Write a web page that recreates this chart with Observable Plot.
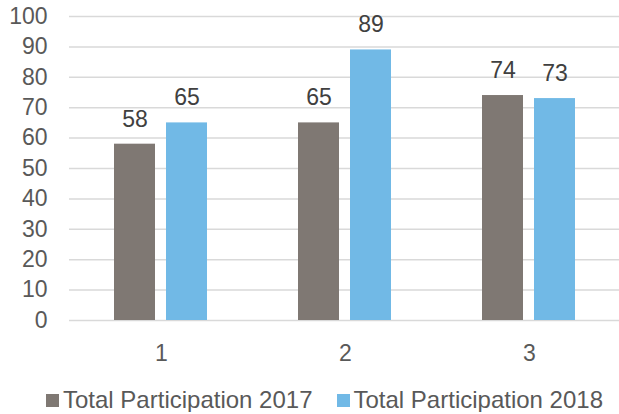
<!DOCTYPE html>
<html>
<head>
<meta charset="utf-8">
<script src="https://cdn.jsdelivr.net/npm/d3@7"></script>
<script src="https://cdn.jsdelivr.net/npm/@observablehq/plot@0.6"></script>
<style>
  html, body { margin: 0; padding: 0; background: #fff; }
  #chart { width: 619px; }
  .legend { display: flex; align-items: center; margin-top: 13px; height: 24px; font-family: "Liberation Sans", Arial, sans-serif; font-size: 24px; color: #595959; white-space: nowrap; }
  .legend .sw { display: inline-block; width: 13px; height: 13px; margin-right: 4px; }
  .legend .item { display: flex; align-items: center; }
</style>
</head>
<body>
<div id="chart"></div>
<script>
const groups = ["1", "2", "3"];
const series = ["Total Participation 2017", "Total Participation 2018"];
const values2017 = [58, 65, 74];
const values2018 = [65, 89, 73];
const colors = ["#7f7873", "#71b9e6"];
const yTicks = [0, 10, 20, 30, 40, 50, 60, 70, 80, 90, 100];

const data = groups.flatMap((g, i) => [
  {group: g, series: series[0], value: values2017[i]},
  {group: g, series: series[1], value: values2018[i]}
]);

const chart = Plot.plot({
  width: 619,
  height: 375,
  marginLeft: 68,
  marginRight: -3,
  marginTop: 16,
  marginBottom: 55,
  style: {fontFamily: "'Liberation Sans', Arial, sans-serif", fontSize: "23px", color: "#595959", background: "#fff"},
  fx: {domain: groups, padding: 0, label: null},
  x: {domain: series, paddingInner: 0.2075, paddingOuter: 0.849, axis: null},
  y: {domain: [0, 100], label: null},
  color: {domain: series, range: colors},
  marks: [
    Plot.gridY(yTicks, {stroke: "#d9d9d9", strokeOpacity: 1, strokeWidth: 1.5}),
    Plot.axisY(yTicks, {tickSize: 0, tickPadding: 22, fontSize: 23, label: null}),
    Plot.axisFx({anchor: "bottom", tickSize: 0, tickPadding: 24, fontSize: 23, label: null}),
    Plot.barY(data, {fx: "group", x: "series", y: "value", fill: "series"}),
    Plot.text(data, {fx: "group", x: "series", y: "value", text: d => String(d.value), dy: -25, fill: "#404040", fontSize: 23})
  ]
});
document.getElementById("chart").appendChild(chart);

const legend = document.createElement("div");
legend.className = "legend";
legend.style.marginLeft = "46px";
series.forEach((s, i) => {
  const item = document.createElement("span");
  item.className = "item";
  if (i > 0) item.style.marginLeft = "24px";
  const sw = document.createElement("span");
  sw.className = "sw";
  sw.style.background = colors[i];
  item.appendChild(sw);
  item.appendChild(document.createTextNode(s));
  legend.appendChild(item);
});
document.getElementById("chart").appendChild(legend);
</script>
</body>
</html>
